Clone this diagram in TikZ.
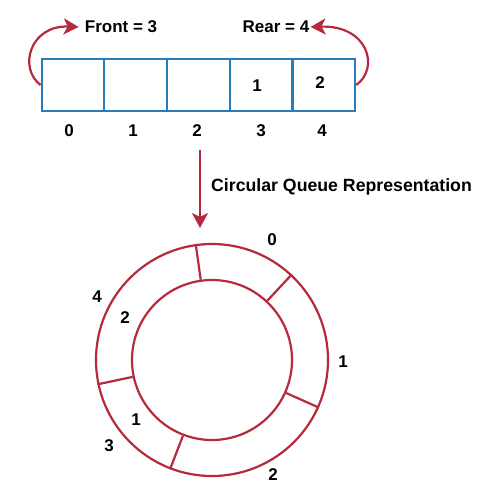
\documentclass[tikz,border=0pt]{standalone}
\usepackage{fontspec}
\setmainfont{Liberation Sans}
\usetikzlibrary{arrows.meta}
\definecolor{qred}{HTML}{B52A3C}
\definecolor{qblue}{HTML}{2C7BB9}
\begin{document}
\begin{tikzpicture}[x=1pt,y=-1pt,
  lbl/.style={font=\fontsize{17}{20}\selectfont\bfseries, inner sep=0pt},
  cell/.style={draw=qblue, line width=2.2pt, minimum width=62.7pt, minimum height=52pt, inner sep=0pt},
  redarrow/.style={draw=qred, line width=2.2pt, -{Stealth[length=15pt,width=16pt,inset=4pt]}},
  ring/.style={draw=qred, line width=2.2pt},
  ringc/.style={ring, circle, inner sep=0pt}]
\useasboundingbox (0,0) rectangle (500,493);
% array
\foreach \i in {0,...,4} {
  \node[cell] (c\i) at (73+62.7*\i, 85) {};
}
\node[lbl] (v3) at (257,86) {1};
\node[lbl] (v4) at (320,83) {2};
\foreach \i/\x in {0/69,1/133,2/197,3/261,4/322} {
  \node[lbl] (idx\i) at (\x,131) {\i};
}
\node[lbl] (front) at (121,27) {Front = 3};
\node[lbl] (rear) at (276,27) {Rear = 4};
\draw[redarrow] (c0.west) .. controls (18,68) and (30,25) .. ([xshift=-6pt]front.west);
\draw[redarrow] (c4.east) .. controls (380,68) and (368,25) .. ([xshift=1pt]rear.east);
% middle arrow
\coordinate (mtop) at (200,150);
\coordinate (mbot) at (200,228);
\draw[redarrow] (mtop) -- (mbot);
\node[lbl, anchor=west, font=\fontsize{17.7}{20}\selectfont\bfseries] (cap) at (211,187) {Circular Queue Representation};
% circular queue
\node[ringc, minimum size=232pt] (outer) at (212,360) {};
\node[ringc, minimum size=160pt] (inner) at (212,360) {};
\foreach \a in {98,47,-24,249,192.5} {
  \draw[ring] (outer.\a) -- (inner.\a);
}
\node[lbl] (o0) at (272,240) {0};
\node[lbl] (o1) at (343,362) {1};
\node[lbl] (o2) at (273,475) {2};
\node[lbl] (o3) at (109,446) {3};
\node[lbl] (o4) at (97,297) {4};
\node[lbl] (i2) at (125,318) {2};
\node[lbl] (i1) at (136,420) {1};
\end{tikzpicture}
\end{document}
